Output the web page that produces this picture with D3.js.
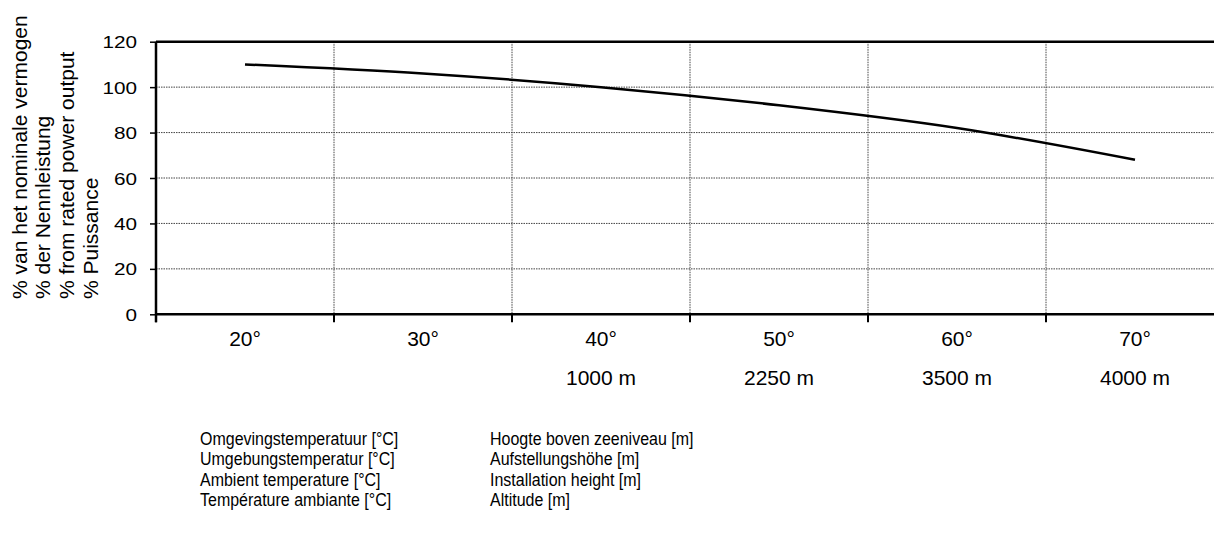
<!DOCTYPE html>
<html>
<head>
<meta charset="utf-8">
<script src="https://cdn.jsdelivr.net/npm/d3@7"></script>
<style>
	body { margin: 0; background: #fff; }
	text { font-family: "Liberation Sans", Arial, sans-serif; fill: #000; }
</style>
</head>
<body>
<div id="chart"></div>
<script>
var temperatures = [ "20°", "30°", "40°", "50°", "60°", "70°" ];
var altitudes = [ "", "", "1000 m", "2250 m", "3500 m", "4000 m" ];
var powerPercent = [ 110, 106, 100, 92, 82, 68 ];
var yTickValues = [ 0, 20, 40, 60, 80, 100, 120 ];
var yTitleLines = [ "% van het nominale vermogen", "% der Nennleistung",
		"% from rated power output", "% Puissance" ];
var temperatureTitle = [ "Omgevingstemperatuur [°C]", "Umgebungstemperatur [°C]",
		"Ambient temperature [°C]", "Température ambiante [°C]" ];
var altitudeTitle = [ "Hoogte boven zeeniveau [m]", "Aufstellungshöhe [m]",
		"Installation height [m]", "Altitude [m]" ];

var plotLeft = 156, plotTop = 41.7, plotBottom = 314.3, band = 178;

function createSvg(div) {
	return d3.select("#" + div).append("svg").attr("width", 1214).attr(
			"height", 540);
}

function drawGrid(svg, x, y) {
	try {
		// horizontal dotted grid
		svg.append("g").selectAll("line").data(yTickValues.slice(1, -1))
				.enter().append("line").attr("x1", plotLeft).attr("x2", 1214)
				.attr("y1", function(d) {
					return y(d);
				}).attr("y2", function(d) {
					return y(d);
				}).attr("stroke", "#444").attr("stroke-width", 1).attr(
						"stroke-dasharray", "1.5,1");
		// vertical dotted grid at band edges
		svg.append("g").selectAll("line").data(temperatures.slice(1))
				.enter().append("line").attr("x1", function(d) {
					return x(d);
				}).attr("x2", function(d) {
					return x(d);
				}).attr("y1", plotTop).attr("y2", plotBottom).attr("stroke",
						"#444").attr("stroke-width", 1).attr(
						"stroke-dasharray", "1.5,1");
	} catch (error) {
		throw "Function :: drawGrid Error: " + error;
	}
}

function drawAxes(svg, x, y) {
	try {
		var yAxis = d3.axisLeft(y).tickValues(yTickValues).tickSize(6)
				.tickPadding(12);
		var gy = svg.append("g").attr("transform",
				"translate(" + plotLeft + ",0)").call(yAxis);
		gy.select(".domain").remove();
		gy.selectAll(".tick line").attr("stroke", "#000").attr(
				"stroke-width", 1.5);
		gy.selectAll(".tick text").attr("font-size", 17).attr("dy", "0.36em")
				.attr("transform", "scale(1.22,1)").attr("x", -19 / 1.22);

		// tick marks at band boundaries
		var edges = temperatures.map(function(d) {
			return x(d);
		});
		svg.append("g").selectAll("line").data(edges).enter().append("line")
				.attr("x1", function(d) {
					return d;
				}).attr("x2", function(d) {
					return d;
				}).attr("y1", plotBottom).attr("y2", plotBottom + 8).attr(
						"stroke", "#000").attr("stroke-width", 2);

		var xAxis = d3.axisBottom(x).tickSize(0).tickPadding(0);
		var gx = svg.append("g").attr("transform",
				"translate(0," + plotBottom + ")").call(xAxis);
		gx.select(".domain").remove();
		gx.selectAll(".tick text").attr("font-size", 21).attr("y", 32).attr(
				"dy", 0);

		svg.append("g").selectAll("text").data(altitudes).enter().append(
				"text").attr("x", function(d, i) {
			return x(temperatures[i]) + x.bandwidth() / 2;
		}).attr("y", 385).attr("text-anchor", "middle")
				.attr("font-size", 21).text(function(d) {
					return d;
				});

		// frame
		svg.append("line").attr("x1", plotLeft).attr("x2", 1214).attr("y1",
				plotTop).attr("y2", plotTop).attr("stroke", "#000").attr(
				"stroke-width", 2.5);
		svg.append("line").attr("x1", plotLeft).attr("x2", 1214).attr("y1",
				plotBottom).attr("y2", plotBottom).attr("stroke", "#000")
				.attr("stroke-width", 2.5);
		svg.append("line").attr("x1", plotLeft).attr("x2", plotLeft).attr(
				"y1", plotTop).attr("y2", plotBottom + 8).attr("stroke",
				"#000").attr("stroke-width", 2.5);
	} catch (error) {
		throw "Function :: drawAxes Error: " + error;
	}
}

function drawTitles(svg) {
	try {
		var xs = [ 27, 50, 74, 98 ];
		svg.append("g").selectAll("text").data(yTitleLines).enter().append(
				"text").attr("transform", function(d, i) {
			return "translate(" + xs[i] + ",299) rotate(-90)";
		}).attr("font-size", 21).text(function(d) {
			return d;
		});
		svg.append("g").selectAll("text").data(temperatureTitle).enter()
				.append("text").attr("transform", function(d, i) {
					return "translate(200," + (445 + i * 20.4)
							+ ") scale(1,1.12)";
				}).attr("font-size", 16).text(function(d) {
					return d;
				});
		svg.append("g").selectAll("text").data(altitudeTitle).enter().append(
				"text").attr("transform", function(d, i) {
			return "translate(490," + (445 + i * 20.4) + ") scale(1,1.12)";
		}).attr("font-size", 16).text(function(d) {
			return d;
		});
	} catch (error) {
		throw "Function :: drawTitles Error: " + error;
	}
}

function drawCurve(svg, x, y) {
	try {
		var line = d3.line().x(function(d, i) {
			return x(temperatures[i]) + x.bandwidth() / 2;
		}).y(function(d) {
			return y(d);
		}).curve(d3.curveMonotoneX);
		svg.append("path").attr("d", line(powerPercent)).attr("stroke",
				"#000").attr("stroke-width", 2.5).attr("fill", "none");
	} catch (error) {
		throw "Function :: drawCurve Error: " + error;
	}
}

var svg = createSvg("chart");
var x = d3.scaleBand().domain(temperatures).range(
		[ plotLeft, plotLeft + band * 6 ]).padding(0);
var y = d3.scaleLinear().domain([ 0, 120 ]).range([ plotBottom, plotTop ]);
drawGrid(svg, x, y);
drawCurve(svg, x, y);
drawAxes(svg, x, y);
drawTitles(svg);
</script>
</body>
</html>
